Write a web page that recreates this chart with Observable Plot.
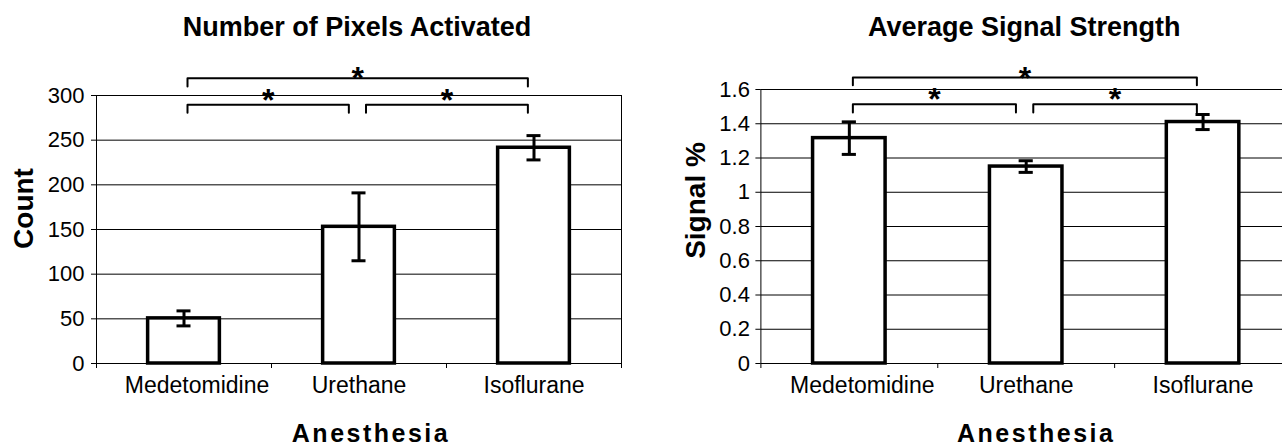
<!DOCTYPE html>
<html>
<head>
<meta charset="utf-8">
<script src="https://cdn.jsdelivr.net/npm/d3@7"></script>
<script src="https://cdn.jsdelivr.net/npm/@observablehq/plot@0.6"></script>
<style>
  html, body { margin: 0; padding: 0; background: #fff; overflow: hidden; width: 1282px; height: 445px; }
  .panel { position: absolute; top: 0; height: 445px; overflow: hidden; }
  .panel svg { display: block; max-width: none !important; }
</style>
</head>
<body>
<div id="left" class="panel" style="left:0;width:641px"></div>
<div id="right" class="panel" style="left:641px;width:641px"></div>
<script>
// ---- data ----
const categories = ["Medetomidine", "Urethane", "Isoflurane"];
const pixelCount = [50.5, 153, 241.5];
const pixelCountError = [8.4, 38, 13.6];
const signalPercent = [1.316, 1.15, 1.41];
const signalPercentError = [0.095, 0.034, 0.044];
const countTicks = [0, 50, 100, 150, 200, 250, 300];
const signalTicks = [0, 0.2, 0.4, 0.6, 0.8, 1, 1.2, 1.4, 1.6];
const comparisonFrom = [0, 0, 1];
const comparisonTo = [2, 1, 2];
const comparisonLevel = ["outer", "inner", "inner"];
const significanceMark = ["*", "*", "*"];

const FONT = "'Liberation Sans', Arial, Helvetica, sans-serif";

function chart(cfg) {
  const n = categories.length;
  const rows = categories.map((c, i) => ({i, c, v: cfg.values[i], e: cfg.errors[i]}));
  const caps = rows.flatMap(d => [{i: d.i, y: d.v - d.e}, {i: d.i, y: d.v + d.e}]);
  const brackets = comparisonFrom.map((a, k) => {
    const b = comparisonTo[k];
    const lv = cfg.levels[comparisonLevel[k]];
    const xa = a + (a === 0 ? 0.02 : 0.04);
    const xb = b - (b === n - 1 ? 0.035 : 0.058);
    return {k, level: comparisonLevel[k], xa, xb, lo: lv[0], hi: lv[1], mid: (xa + xb) / 2, label: significanceMark[k]};
  });
  const bracketPts = brackets.flatMap(d => [
    {k: d.k, x: d.xa, y: d.lo}, {k: d.k, x: d.xa, y: d.hi},
    {k: d.k, x: d.xb, y: d.hi}, {k: d.k, x: d.xb, y: d.lo}
  ]);
  const edges = d3.range(n + 1).map(i => i - 0.5);

  const svg = Plot.plot({
    width: cfg.width,
    height: 445,
    marginLeft: cfg.marginLeft,
    marginRight: cfg.marginRight,
    marginTop: cfg.marginTop,
    marginBottom: cfg.marginBottom,
    style: {fontFamily: FONT, background: "white", color: "black", overflow: "visible"},
    x: {domain: [-0.5, n - 0.5], axis: null},
    y: {domain: cfg.domain, axis: null},
    marks: [
      Plot.gridY(cfg.ticks, {stroke: "black", strokeOpacity: 1, strokeWidth: 1}),
      Plot.ruleX([-0.5], {stroke: "black", strokeWidth: 1}),
      cfg.frameRight ? Plot.ruleX([n - 0.5], {stroke: "black", strokeWidth: 1}) : null,
      Plot.axisY(cfg.ticks, {tickSize: 5, tickPadding: cfg.tickPadding, fontSize: 22, tickFormat: d => String(d), label: null}),
      Plot.axisX(edges, {tickSize: 5, tickFormat: () => "", label: null}),
      Plot.rect(rows, {x1: d => d.i - 0.205, x2: d => d.i + 0.205, y1: 0, y2: "v", fill: "white", stroke: "black", strokeWidth: 3.5}),
      Plot.ruleX(rows, {x: "i", y1: d => d.v - d.e, y2: d => d.v + d.e, stroke: "black", strokeWidth: 3}),
      Plot.ruleY(caps, {y: "y", x1: d => d.i - 0.04, x2: d => d.i + 0.04, stroke: "black", strokeWidth: 3}),
      Plot.line(bracketPts, {x: "x", y: "y", z: "k", stroke: "black", strokeWidth: 2, curve: "linear"}),
      Plot.text(brackets, {filter: d => d.level === "outer", x: "mid", y: "hi", text: "label", lineAnchor: "bottom", dy: 11, fontSize: 32, fontWeight: "bold"}),
      Plot.text(brackets, {filter: d => d.level === "inner", x: "mid", y: "hi", text: "label", lineAnchor: "bottom", dy: 6, fontSize: 32, fontWeight: "bold"}),
      Plot.text(categories, {filter: (d, i) => i === 0, x: (d, i) => i, y: () => cfg.domain[0], text: d => d, lineAnchor: "bottom", dy: 29, dx: 13, fontSize: 23}),
      Plot.text(categories, {filter: (d, i) => i > 0, x: (d, i) => i, y: () => cfg.domain[0], text: d => d, lineAnchor: "bottom", dy: 29, fontSize: 23}),
      Plot.text([cfg.title], {frameAnchor: "top", textAnchor: "middle", lineAnchor: "bottom", dy: 35 - cfg.marginTop, dx: -2, fontSize: 27, fontWeight: "bold"}),
      Plot.text([cfg.yLabel], {frameAnchor: "left", textAnchor: "middle", rotate: -90, lineAnchor: "bottom", dx: cfg.yLabelDx, dy: cfg.yLabelDy, fontSize: 28, fontWeight: "bold"}),
      Plot.text([cfg.xLabel], {frameAnchor: "bottom", textAnchor: "middle", lineAnchor: "bottom", dy: 78, dx: cfg.xLabelDx, fontSize: 25, fontWeight: "bold"})
    ]
  });
  d3.select(svg).selectAll("text").filter(function() { return this.textContent === cfg.xLabel; })
    .attr("letter-spacing", "2.5px");
  svg.style.maxWidth = "none";
  return svg;
}

document.getElementById("left").append(chart({
  values: pixelCount, errors: pixelCountError, ticks: countTicks, domain: [0, 300],
  width: 641, marginLeft: 96, marginRight: 20, marginTop: 95, marginBottom: 82,
  levels: {outer: [310, 319.3], inner: [280.6, 289.6]},
  title: "Number of Pixels Activated", yLabel: "Count", xLabel: "Anesthesia",
  yLabelDx: -64, yLabelDy: -21, xLabelDx: 12, tickPadding: 7, frameRight: true
}));

document.getElementById("right").append(chart({
  values: signalPercent, errors: signalPercentError, ticks: signalTicks, domain: [0, 1.6],
  width: 660, marginLeft: 119.4, marginRight: 10, marginTop: 89, marginBottom: 82,
  levels: {outer: [1.625, 1.670], inner: [1.465, 1.514]},
  title: "Average Signal Strength", yLabel: "Signal %", xLabel: "Anesthesia",
  yLabelDx: -56, yLabelDy: -26, xLabelDx: 10, tickPadding: 6, frameRight: false
}));
</script>
</body>
</html>
